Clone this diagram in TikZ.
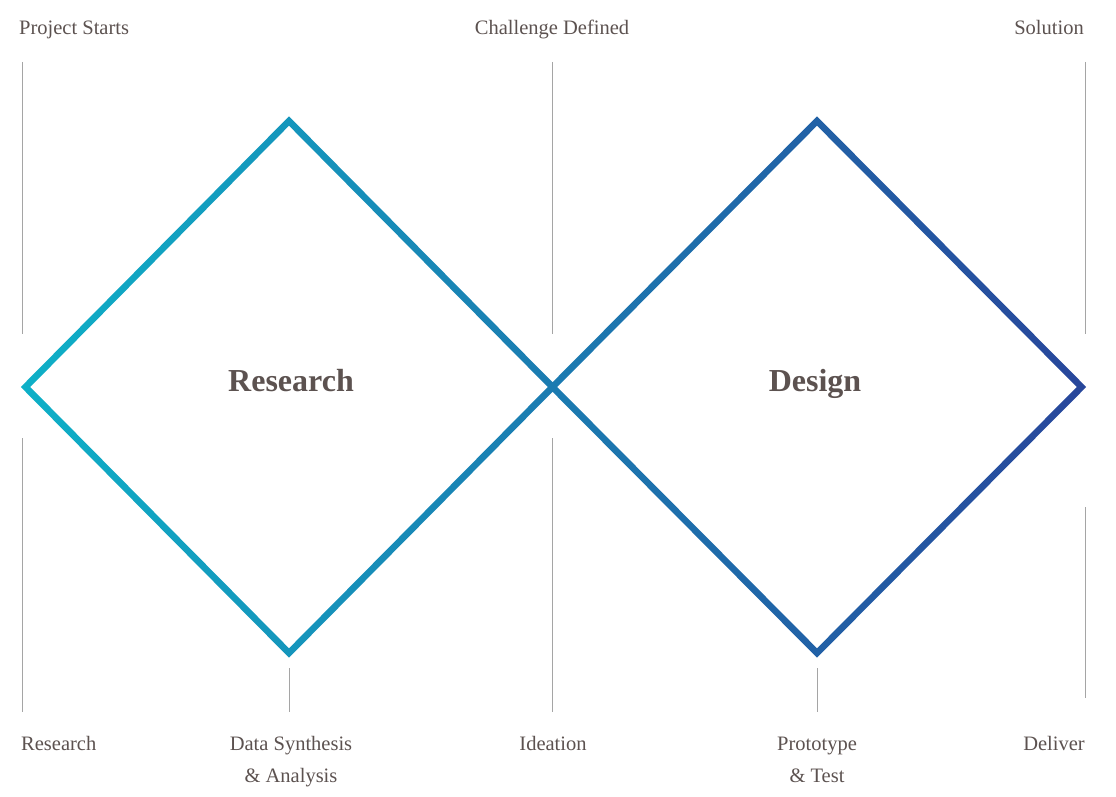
\documentclass[tikz,border=0pt]{standalone}
\usepackage{fontspec}
\setmainfont{Liberation Serif}
\definecolor{txt}{RGB}{92,82,80}
\definecolor{rule}{RGB}{165,165,165}
\definecolor{cyanend}{RGB}{14,176,199}
\definecolor{midblue}{RGB}{26,125,184}
\definecolor{deepblue}{RGB}{40,70,155}
% half of the stroke width, measured along the diamond axes
\def\rw{4.7}
% one diamond outline as a ring: outer outline, then inner outline reversed
\newcommand{\diamondring}[4]{%
  ({#1-#3-\rw},{#2}) -- ({#1},{#2-#4-\rw}) -- ({#1+#3+\rw},{#2}) -- ({#1},{#2+#4+\rw}) -- cycle
  ({#1-#3+\rw},{#2}) -- ({#1},{#2+#4-\rw}) -- ({#1+#3-\rw},{#2}) -- ({#1},{#2-#4+\rw}) -- cycle}
\begin{document}
\begin{tikzpicture}[x=1pt,y=-1pt,
  label/.style={text=txt,font=\fontsize{20.5}{32}\selectfont,inner sep=0pt},
  phase/.style={text=txt,font=\fontsize{32}{36}\selectfont\bfseries,inner sep=0pt},
  guide/.style={draw=rule,line width=1pt}]
\useasboundingbox (0,0) rectangle (1116,797);

% the two diamonds, one continuous colour run from left to right
\shade[left color=cyanend,middle color=midblue,right color=deepblue,nonzero rule]
  \diamondring{289}{387}{263.5}{266}
  \diamondring{817}{387}{264.5}{266};

% guide line end points
\coordinate (l1) at (22,62);   \coordinate (l2) at (22,334);
\coordinate (l3) at (22,438);  \coordinate (l4) at (22,712);
\coordinate (m1) at (552,62);  \coordinate (m2) at (552,334);
\coordinate (m3) at (552,438); \coordinate (m4) at (552,712);
\coordinate (r1) at (1085,62); \coordinate (r2) at (1085,334);
\coordinate (r3) at (1085,507);\coordinate (r4) at (1085,698);
\coordinate (a1) at (289,668); \coordinate (a2) at (289,712);
\coordinate (b1) at (817,668); \coordinate (b2) at (817,712);

\draw[guide] (l1) -- (l2);
\draw[guide] (l3) -- (l4);
\draw[guide] (m1) -- (m2);
\draw[guide] (m3) -- (m4);
\draw[guide] (r1) -- (r2);
\draw[guide] (r3) -- (r4);
\draw[guide] (a1) -- (a2);
\draw[guide] (b1) -- (b2);

% milestones along the top
\node[label,anchor=base west] (start) at (19,35) {Project Starts};
\node[label,anchor=base] (challenge) at (552,35) {Challenge Defined};
\node[label,anchor=base east] (solution) at (1084,35) {Solution};

% phase titles
\node[phase,anchor=base] (research) at (291,391) {Research};
\node[phase,anchor=base] (design) at (815,391) {Design};

% activities along the bottom
\node[label,anchor=base west] (act1) at (21,750) {Research};
\node[label,anchor=base] (act2) at (291,750) {Data Synthesis};
\node[label,anchor=base] (act2b) at (291,782) {\& Analysis};
\node[label,anchor=base] (act3) at (553,750) {Ideation};
\node[label,anchor=base] (act4) at (817,750) {Prototype};
\node[label,anchor=base] (act4b) at (817,782) {\& Test};
\node[label,anchor=base east] (act5) at (1085,750) {Deliver};
\end{tikzpicture}
\end{document}
